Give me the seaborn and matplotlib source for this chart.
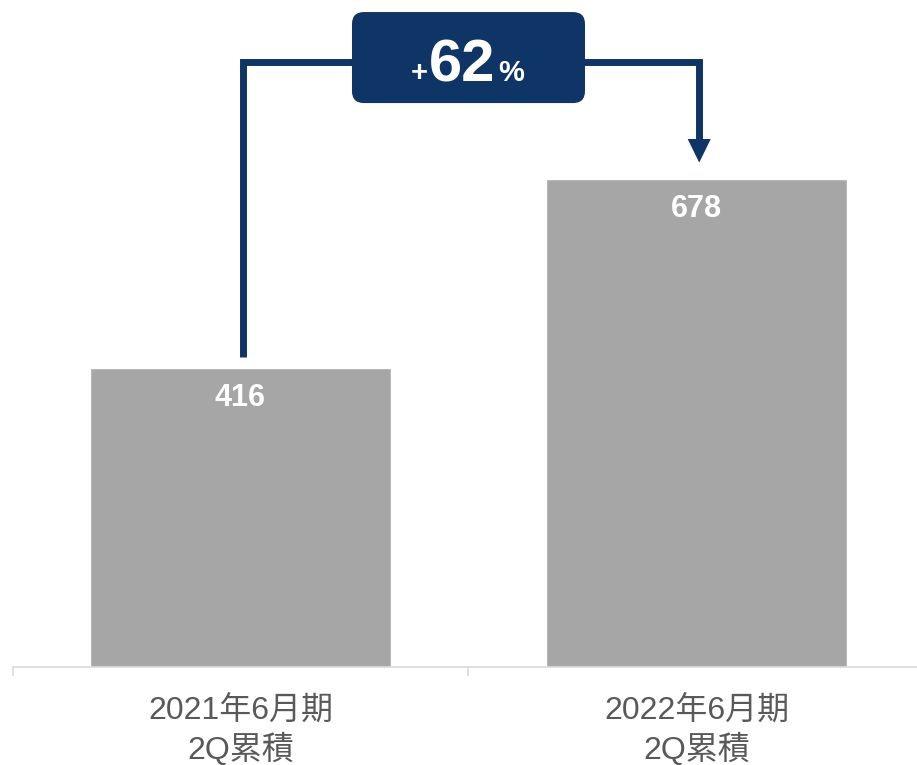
import matplotlib
matplotlib.use('Agg')
import matplotlib.pyplot as plt
import seaborn as sns
from matplotlib.patches import FancyBboxPatch

# data
labels = ['2021年6月期\n2Q累積', '2022年6月期\n2Q累積']
values = [416, 678]
growth = '62'

BAR = '#a6a6a6'
NAVY = '#0e3566'
AXIS = '#d9d9d9'
TEXT = '#595959'

sns.set_style('white')
plt.rcParams['font.family'] = ['Liberation Sans', 'Noto Sans CJK JP', 'DejaVu Sans']

fig = plt.figure(figsize=(9.17, 7.65), dpi=100)
ax = fig.add_axes([12.5 / 917, 98 / 765, 904.5 / 917, 667 / 765])

sns.barplot(x=labels, y=values, color=BAR, saturation=1, width=0.66, ax=ax)
ax.set_xlabel('')
ax.set_ylabel('')
ax.set_yticks([])
for s in ['left', 'top', 'right']:
    ax.spines[s].set_visible(False)
ax.spines['bottom'].set_color(AXIS)
ax.spines['bottom'].set_linewidth(1.2)

ax.set_xticks([-0.5, 0.5, 1.5], minor=True)
ax.tick_params(axis='x', which='minor', bottom=True, length=6.5, width=1.2, color=AXIS, direction='out')
ax.tick_params(axis='x', which='major', length=0, pad=21, labelsize=23, labelcolor=TEXT)
for t in ax.get_xticklabels():
    t.set_linespacing(1.25)

# values inside the bars
for i, v in enumerate(values):
    ax.annotate(str(v), (i, v), xytext=(0, -21.5), textcoords='offset points',
                ha='center', va='center', fontsize=22, fontweight='bold', color='white')

# bracket connector (slightly right of bar centres, as in the original)
dx = 0.006
bracket_y = 841
tip = values[1] + 23
ax.plot([0 + dx, 0 + dx, 1 + dx, 1 + dx], [values[0] + 15, bracket_y, bracket_y, tip + 30],
        color=NAVY, lw=5, solid_joinstyle='miter', solid_capstyle='butt', zorder=2)
ax.annotate('', xy=(1 + dx, tip), xytext=(1 + dx, tip + 34),
            arrowprops=dict(arrowstyle='-|>,head_length=17,head_width=8.3', mutation_scale=1,
                            color=NAVY, lw=0, shrinkA=0, shrinkB=0), zorder=2)

# growth box
cx, cy = 0.5, 847
bw, bh = 0.511, 126.5
box = FancyBboxPatch((cx - bw / 2, cy - bh / 2), bw, bh,
                     boxstyle='round,pad=0,rounding_size=0.0263', mutation_aspect=633.8,
                     fc=NAVY, ec='none', zorder=3)
ax.add_patch(box)
ax.annotate(growth, (cx, cy), xytext=(-4.7, -16.9), textcoords='offset points',
            ha='center', va='baseline', fontsize=43, fontweight='bold', color='white', zorder=4)
ax.annotate('+', (cx, cy), xytext=(-29.5, -16.9), textcoords='offset points',
            ha='right', va='baseline', fontsize=21, fontweight='bold', color='white', zorder=4)
ax.annotate('%', (cx, cy), xytext=(21.5, -16.9), textcoords='offset points',
            ha='left', va='baseline', fontsize=21, fontweight='bold', color='white', zorder=4)

ax.set_xlim(-0.5, 1.4836)
ax.set_ylim(0, 927)

fig.savefig('out.png', dpi=100)
